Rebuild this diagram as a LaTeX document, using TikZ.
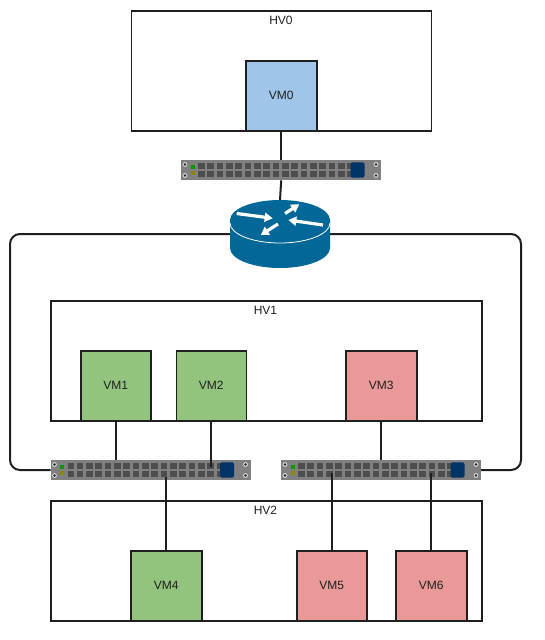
\documentclass[tikz,border=0pt]{standalone}
\usepackage{fontspec}
\setmainfont{Liberation Sans}
\usetikzlibrary{arrows.meta}
\definecolor{ln}{HTML}{1F1F1F}
\definecolor{blueVM}{HTML}{9FC5E8}
\definecolor{greenVM}{HTML}{93C47D}
\definecolor{redVM}{HTML}{EA9999}
\definecolor{routerblue}{HTML}{036897}
\definecolor{swbody}{HTML}{808080}
\definecolor{swport}{HTML}{4D4D4D}
\definecolor{swblue}{HTML}{003366}
\tikzset{
  hvbox/.style={draw=ln,line width=1.6pt,fill=white,anchor=north west,inner sep=0pt},
  hvlabel/.style={font=\fontsize{12}{14}\selectfont,text=ln,inner sep=0pt},
  vmbox/.style={draw=ln,line width=1.6pt,anchor=north west,inner sep=0pt,font=\fontsize{12}{14}\selectfont,text=ln},
  link/.style={draw=ln,line width=2pt},
  loopline/.style={draw=ln,line width=2pt,rounded corners=10pt},
  swframe/.style={fill=swbody,draw=none,anchor=north west,inner sep=0pt,minimum width=200pt,minimum height=20pt},
  routerarrow/.style={draw=white,line width=3.2pt,-{Triangle[length=8pt,width=9pt,fill=white]}},
}
\newcommand{\switchunit}[3]{%
  \node[swframe] (#1) at (#2,#3) {};
  \begin{scope}[shift={(#2,#3)}]
    \foreach \i in {0,...,17}{
      \fill[swport] (17+9.33*\i,3) rectangle ++(6.6,6.4);
      \fill[swport] (17+9.33*\i,11) rectangle ++(6.6,6.4);
    }
    \fill[swblue,rounded corners=1.5pt] (169.5,2.3) rectangle (183.5,17.7);
    \fill[green!60!black] (9.5,5) rectangle (13.5,9);
    \fill[olive] (9.5,11) rectangle (13.5,15);
    \foreach \sx in {4,195}\foreach \sy in {4.5,15.5}{
      \fill[white!85!black] (\sx,\sy) circle[radius=2.4pt];
      \fill[black!85] (\sx,\sy) circle[radius=1.3pt];
    }
  \end{scope}
}
\begin{document}
\begin{tikzpicture}[x=1pt,y=-1pt]
\useasboundingbox (0,0) rectangle (545,640);
\fill[white] (0,0) rectangle (545,640);

% router body and the outer loop behind it
\node[inner sep=0pt,minimum width=100pt,minimum height=68pt] (router) at (280,234) {};
\draw[loopline] (router.west) -- (10,234) -- (10,470) -- (50.5,470) coordinate (loopL);
\draw[loopline] (router.east) -- (521,234) -- (521,470) -- (481,470) coordinate (loopR);

% hypervisors
\node[hvbox,minimum width=300pt,minimum height=120pt] (hv0) at (130.5,10) {};
\node[hvbox,minimum width=431pt,minimum height=120pt] (hv1) at (50,300) {};
\node[hvbox,minimum width=431pt,minimum height=120pt] (hv2) at (50,500) {};
\node[hvlabel] (hv0label) at (281,20) {HV0};
\node[hvlabel] (hv1label) at (265.5,310) {HV1};
\node[hvlabel] (hv2label) at (265.5,510) {HV2};

% VMs
\node[vmbox,fill=blueVM,minimum width=71pt,minimum height=70pt] (vm0) at (245,60) {VM0};
\node[vmbox,fill=greenVM,minimum width=70pt,minimum height=70pt] (vm1) at (80,350) {VM1};
\node[vmbox,fill=greenVM,minimum width=70pt,minimum height=70pt] (vm2) at (175.5,350) {VM2};
\node[vmbox,fill=redVM,minimum width=71pt,minimum height=70pt] (vm3) at (345,350) {VM3};
\node[vmbox,fill=greenVM,minimum width=71pt,minimum height=70pt] (vm4) at (130,550) {VM4};
\node[vmbox,fill=redVM,minimum width=70pt,minimum height=70pt] (vm5) at (296,550) {VM5};
\node[vmbox,fill=redVM,minimum width=71pt,minimum height=70pt] (vm6) at (395,550) {VM6};

% switches
\switchunit{sw0}{181}{160}
\switchunit{sw1}{50.5}{460}
\switchunit{sw2}{281}{460}

% router drawing
\fill[routerblue] (230,220) -- (230,248) arc[start angle=180,end angle=360,x radius=50pt,y radius=20pt] -- (330,220) arc[start angle=0,end angle=180,x radius=50pt,y radius=20pt] -- cycle;
\draw[white,line width=0.8pt] (230,223) arc[start angle=180,end angle=360,x radius=50pt,y radius=20pt];
\draw[routerarrow] (236.7,213.5) -- (272.7,218.3);
\draw[routerarrow] (285,213.5) -- (299.3,204.3);
\draw[routerarrow] (323,225) -- (288.3,220);
\draw[routerarrow] (278,224) -- (260.7,235);

% links
\draw[link] (vm0.south) -- (vm0.south |- sw0.north);
\draw[link] (sw0.south) -- (router.north);
\coordinate (p2) at (vm2.south |- 0,467);
\coordinate (p4) at (vm4.north |- 0,477);
\coordinate (p5) at (vm5.north |- 0,473);
\coordinate (p6) at (vm6.north |- 0,473);
\draw[link] (vm1.south) -- (vm1.south |- sw1.north);
\draw[link] (vm2.south) -- (p2);
\draw[link] (vm3.south) -- (vm3.south |- sw2.north);
\draw[link] (vm4.north) -- (p4);
\draw[link] (vm5.north) -- (p5);
\draw[link] (vm6.north) -- (p6);
\end{tikzpicture}
\end{document}
